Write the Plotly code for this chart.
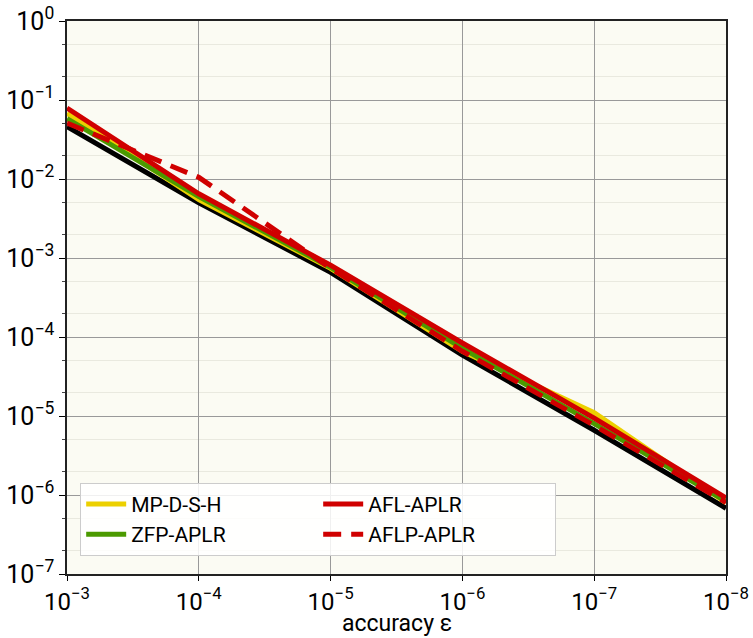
import plotly.graph_objects as go

eps = [1e-3, 1e-4, 1e-5, 1e-6, 1e-7, 1e-8]
ref_black = [0.046, 5.0e-3, 6.6e-4, 5.9e-5, 6.6e-6, 6.8e-7]
mp_d_s_h = [0.068, 5.5e-3, 7.4e-4, 6.6e-5, 1.1e-5, 8.0e-7]
zfp_aplr = [0.058, 6.0e-3, 7.6e-4, 7.2e-5, 8.0e-6, 8.3e-7]
afl_aplr = [0.079, 6.5e-3, 8.1e-4, 8.4e-5, 9.4e-6, 9.2e-7]
aflp_aplr = [0.051, 1.05e-2, 7.4e-4, 6.6e-5, 7.6e-6, 8.0e-7]

x_ticks = [1e-3, 1e-4, 1e-5, 1e-6, 1e-7, 1e-8]
x_ticktext = ["10<sup>−3</sup>", "10<sup>−4</sup>", "10<sup>−5</sup>", "10<sup>−6</sup>", "10<sup>−7</sup>", "10<sup>−8</sup>"]
y_ticks = [1e0, 1e-1, 1e-2, 1e-3, 1e-4, 1e-5, 1e-6, 1e-7]
y_ticktext = ["10<sup>0</sup>", "10<sup>−1</sup>", "10<sup>−2</sup>", "10<sup>−3</sup>", "10<sup>−4</sup>", "10<sup>−5</sup>", "10<sup>−6</sup>", "10<sup>−7</sup>"]
x_title = "accuracy ε"

LW = 5
fig = go.Figure()
fig.add_trace(go.Scatter(x=eps, y=ref_black, mode="lines", line=dict(color="black", width=LW), showlegend=False))
fig.add_trace(go.Scatter(x=eps, y=mp_d_s_h, mode="lines", name="MP-D-S-H", line=dict(color="#ecd000", width=LW), legendrank=1))
fig.add_trace(go.Scatter(x=eps, y=zfp_aplr, mode="lines", name="ZFP-APLR", line=dict(color="#4b9a00", width=LW), legendrank=3))
fig.add_trace(go.Scatter(x=eps, y=afl_aplr, mode="lines", name="AFL-APLR", line=dict(color="#d00000", width=LW), legendrank=2))
fig.add_trace(go.Scatter(x=eps, y=aflp_aplr, mode="lines", name="AFLP-APLR", line=dict(color="#d00000", width=LW, dash="18px,10px"), legendrank=4))

fig.update_layout(
    width=753, height=638,
    margin=dict(l=67, r=27, t=21, b=64),
    paper_bgcolor="white",
    plot_bgcolor="#fbfbf3",
    font=dict(family="Roboto, sans-serif", size=23, color="black"),
    legend=dict(
        orientation="h", x=0.02, y=0.165, xanchor="left", yanchor="top",
        entrywidth=182, traceorder="normal", itemwidth=40,
        bgcolor="rgba(255,255,255,0.85)", bordercolor="#cccccc", borderwidth=1,
        font=dict(size=21),
    ),
    annotations=[dict(
        text=x_title, xref="paper", yref="paper", x=0.5, y=-0.09,
        xanchor="center", yanchor="middle", showarrow=False, font=dict(size=23),
    )],
)
fig.update_xaxes(
    type="log", range=[-3, -8], automargin=False,
    tickvals=x_ticks, ticktext=x_ticktext,
    ticks="outside", ticklen=5, tickcolor="black",
    showgrid=True, gridcolor="#999999", gridwidth=1,
    showline=True, linecolor="#222222", linewidth=1.5, mirror=True,
    tickfont=dict(size=24),
    zeroline=False,
)
fig.update_yaxes(
    type="log", range=[-7, 0], automargin=False,
    tickvals=y_ticks, ticktext=y_ticktext,
    ticks="outside", ticklen=6, tickcolor="black",
    showgrid=True, gridcolor="#999999", gridwidth=1,
    minor=dict(ticks="outside", ticklen=3, tickcolor="#444444", showgrid=True, gridcolor="#e9e9df", gridwidth=1),
    showline=True, linecolor="#222222", linewidth=1.5, mirror=True,
    tickfont=dict(size=25),
    zeroline=False,
)

fig.write_html("out.html")
